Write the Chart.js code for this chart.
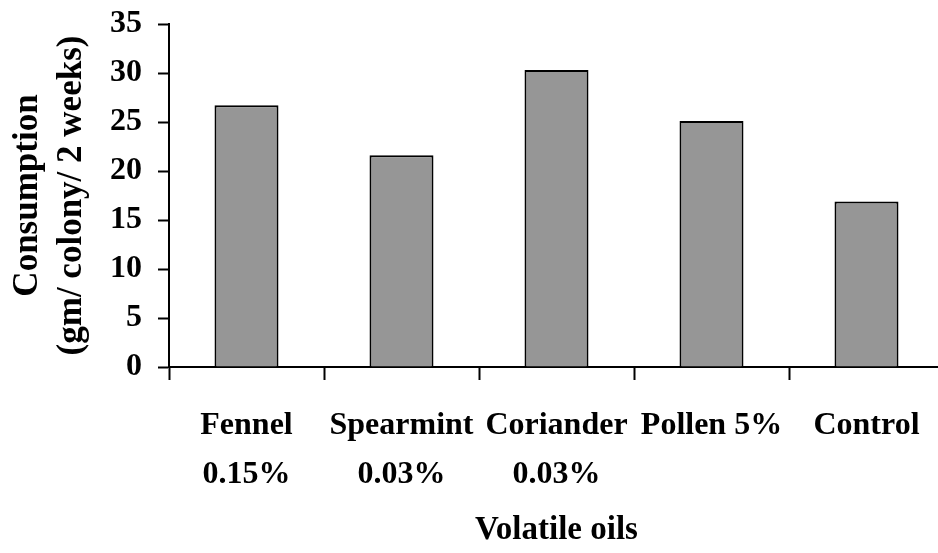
<!DOCTYPE html>
<html>
<head>
<meta charset="utf-8">
<script src="https://cdn.jsdelivr.net/npm/chart.js@4/dist/chart.umd.min.js"></script>
<style>
  html, body { margin: 0; padding: 0; background: #fff; overflow: hidden; }
  #wrap { width: 944px; height: 553px; }
</style>
</head>
<body>
<div id="wrap"><canvas id="c" width="944" height="553"></canvas></div>
<script>
const categories = [["Fennel", "0.15%"], ["Spearmint", "0.03%"], ["Coriander", "0.03%"], ["Pollen 5%"], ["Control"]];
const consumption = [26.7, 21.6, 30.3, 25.1, 16.9];
const yTicks = [0, 5, 10, 15, 20, 25, 30, 35];
const yTitle = ["Consumption", "(gm/ colony/ 2 weeks)"];
const xTitle = "Volatile oils";

const FAMILY = '"Liberation Serif", "Times New Roman", serif';
Chart.defaults.color = '#000';
Chart.defaults.font.family = FAMILY;

new Chart(document.getElementById('c'), {
  type: 'bar',
  data: {
    labels: categories,
    datasets: [{
      data: consumption,
      backgroundColor: '#969696',
      borderColor: '#000',
      borderWidth: 2,
      categoryPercentage: 1,
      barPercentage: 0.413
    }]
  },
  options: {
    responsive: false,
    animation: false,
    layout: { padding: { top: 24, right: 0, bottom: 0, left: 0 } },
    plugins: { legend: { display: false }, tooltip: { enabled: false } },
    scales: {
      x: {
        offset: true,
        grid: { display: true, drawOnChartArea: false, offset: true, tickLength: 13, tickColor: '#000', tickWidth: 2 },
        border: { display: true, color: '#000', width: 2 },
        ticks: { font: { size: 32, weight: 'bold', lineHeight: 1.53 }, padding: 21, maxRotation: 0, autoSkip: false },
        title: { display: true, text: xTitle, font: { size: 33, weight: 'bold' }, padding: { top: 0, bottom: 3 } },
        afterFit(s) { s.height = 186; s.paddingLeft = 0; s.paddingRight = 0; }
      },
      y: {
        min: 0, max: 35,
        afterBuildTicks(s) { s.ticks = yTicks.map(v => ({ value: v })); },
        grid: { display: true, drawOnChartArea: false, tickLength: 11, tickColor: '#000', tickWidth: 2 },
        border: { display: true, color: '#000', width: 2 },
        ticks: { font: { size: 32, weight: 'bold' }, padding: 16 },
        title: { display: true, text: yTitle, font: { size: 35, weight: 'bold', lineHeight: 1.26 }, padding: { top: 6, bottom: 0 } },
        afterFit(s) { s.width = 169; s.paddingTop = 0; s.paddingBottom = 0; }
      }
    }
  }
});
</script>
</body>
</html>
